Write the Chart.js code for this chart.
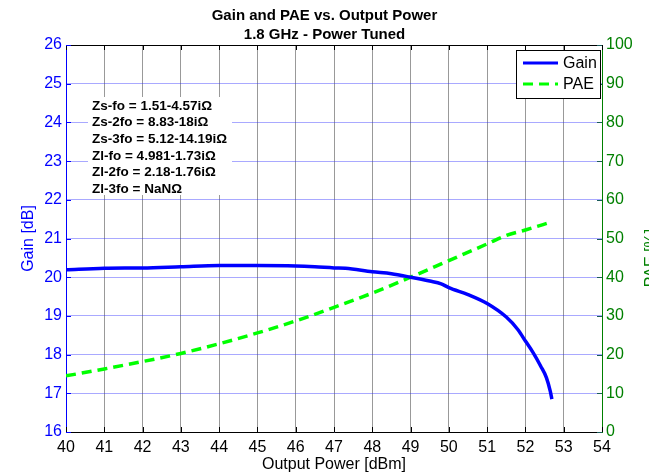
<!DOCTYPE html>
<html>
<head>
<meta charset="utf-8">
<script src="https://cdn.jsdelivr.net/npm/chart.js@4.4.1/dist/chart.umd.min.js"></script>
<style>
  html, body { margin: 0; padding: 0; background: #fff; overflow: hidden; }
  #wrap { width: 649px; height: 474px; }
</style>
</head>
<body>
<div id="wrap"><canvas id="c" width="649" height="474"></canvas></div>
<script>
// Gain and PAE vs output power, two y axes (MATLAB-style plot)
const titleLines = ['Gain and PAE vs. Output Power', '1.8 GHz - Power Tuned'];

const gainX = [40, 41, 42, 43, 44, 45, 46, 46.5, 47, 47.3, 48, 48.5, 49, 49.5, 49.8, 50, 50.5, 51, 51.5, 51.8, 52, 52.2, 52.4, 52.55, 52.65, 52.69];
const gainY = [20.19, 20.23, 20.24, 20.27, 20.3, 20.3, 20.29, 20.27, 20.24, 20.23, 20.14, 20.09, 20.0, 19.9, 19.83, 19.73, 19.55, 19.32, 18.97, 18.65, 18.35, 18.05, 17.7, 17.4, 17.05, 16.85];

const paeX = [40, 41, 42, 43, 44, 45, 46, 47, 48, 49, 50, 51, 51.5, 52, 52.69];
const paeY = [14.5, 16.3, 18.2, 20.3, 22.8, 25.6, 28.7, 32.2, 35.9, 40.0, 44.3, 48.6, 50.8, 52.2, 54.3];

const impedanceNotes = [
  'Zs-fo = 1.51-4.57iΩ',
  'Zs-2fo = 8.83-18iΩ',
  'Zs-3fo = 5.12-14.19iΩ',
  'Zl-fo = 4.981-1.73iΩ',
  'Zl-2fo = 2.18-1.76iΩ',
  'Zl-3fo = NaNΩ',
];

const FONT = 'Liberation Sans, Arial, sans-serif';
const BLUE = '#0000ff';
const GREEN = '#008000';

const toPts = (xs, ys) => xs.map((x, i) => ({ x, y: ys[i] }));

// white text box with the impedance notes, top border, inward ticks, legend, right title
const extras = {
  id: 'extras',
  afterDraw(chart) {
    const { ctx, chartArea: a, scales } = chart;
    ctx.save();

    // top border
    ctx.strokeStyle = '#000';
    ctx.lineWidth = 1;
    ctx.beginPath();
    ctx.moveTo(a.left, a.top + 0.5);
    ctx.lineTo(a.right, a.top + 0.5);
    ctx.stroke();

    // inward ticks
    ctx.beginPath();
    scales.x.ticks.forEach(t => {
      const px = Math.round(scales.x.getPixelForValue(t.value)) + 0.5;
      ctx.moveTo(px, a.bottom); ctx.lineTo(px, a.bottom - 5);
      ctx.moveTo(px, a.top); ctx.lineTo(px, a.top + 5);
    });
    ctx.stroke();
    ctx.strokeStyle = BLUE;
    ctx.beginPath();
    scales.y.ticks.forEach(t => {
      const py = Math.round(scales.y.getPixelForValue(t.value)) + 0.5;
      ctx.moveTo(a.left, py); ctx.lineTo(a.left + 5, py);
    });
    ctx.stroke();
    ctx.strokeStyle = '#1a5a5a';
    ctx.beginPath();
    scales.y2.ticks.forEach(t => {
      const py = Math.round(scales.y2.getPixelForValue(t.value)) + 0.5;
      ctx.moveTo(a.right, py); ctx.lineTo(a.right - 5, py);
    });
    ctx.stroke();

    // impedance text box
    ctx.fillStyle = '#fff';
    ctx.fillRect(a.left + 22, a.top + 52, 144, 98);
    ctx.fillStyle = '#000';
    ctx.font = 'bold 13.5px ' + FONT;
    ctx.textBaseline = 'middle';
    ctx.textAlign = 'left';
    impedanceNotes.forEach((s, i) => ctx.fillText(s, a.left + 26, a.top + 61 + i * 16.6));

    // legend box
    const lx = a.right - 86, ly = a.top + 5, lw = 84, lh = 48;
    ctx.fillStyle = '#fff';
    ctx.fillRect(lx, ly, lw, lh);
    ctx.strokeStyle = '#000';
    ctx.lineWidth = 1;
    ctx.strokeRect(lx + 0.5, ly + 0.5, lw, lh);
    ctx.font = '16px ' + FONT;
    chart.data.datasets.forEach((ds, i) => {
      const y = ly + 13 + i * 21;
      ctx.strokeStyle = ds.borderColor;
      ctx.lineWidth = 3;
      ctx.setLineDash(ds.borderDash || []);
      ctx.beginPath();
      ctx.moveTo(lx + 7, y); ctx.lineTo(lx + 42, y);
      ctx.stroke();
      ctx.setLineDash([]);
      ctx.fillStyle = '#000';
      ctx.fillText(ds.label, lx + 47, y + 1);
    });

    // right axis title (MATLAB reads bottom-to-top, cut by the window edge)
    ctx.translate(652, 258);
    ctx.rotate(-Math.PI / 2);
    ctx.fillStyle = GREEN;
    ctx.font = '16px ' + FONT;
    ctx.textAlign = 'center';
    ctx.fillText('PAE [%]', 0, 0);
    ctx.restore();
  }
};

new Chart(document.getElementById('c'), {
  type: 'line',
  data: {
    datasets: [
      { label: 'Gain', data: toPts(gainX, gainY), yAxisID: 'y', borderColor: BLUE, borderWidth: 3.5,
        pointRadius: 0, cubicInterpolationMode: 'monotone', fill: false },
      { label: 'PAE', data: toPts(paeX, paeY), yAxisID: 'y2', borderColor: '#00ff00', borderWidth: 3.5,
        borderDash: [10, 6], pointRadius: 0, cubicInterpolationMode: 'monotone', fill: false },
    ],
  },
  options: {
    responsive: false,
    animation: false,
    layout: { padding: { top: 0, right: 0, bottom: 0, left: 0 } },
    plugins: {
      legend: { display: false },
      tooltip: { enabled: false },
      title: {
        display: true,
        text: titleLines,
        color: '#000',
        font: { family: FONT, size: 15, weight: 'bold', lineHeight: 1.3 },
        padding: { top: 6, bottom: 0 },
      },
    },
    scales: {
      x: {
        type: 'linear', min: 40, max: 54,
        ticks: { stepSize: 1, color: '#000', font: { family: FONT, size: 16 }, padding: 6 },
        grid: { color: 'rgba(0,0,0,0.4)', drawTicks: false },
        border: { color: '#000' },
        title: { display: true, text: 'Output Power [dBm]', color: '#000', font: { family: FONT, size: 16 }, padding: { top: 0, bottom: 0 } },
        afterFit: s => { s.height = 42; },
      },
      y: {
        position: 'left', min: 16, max: 26,
        ticks: { stepSize: 1, color: BLUE, font: { family: FONT, size: 16 }, padding: 4 },
        grid: { color: 'rgba(40,40,255,0.4)', drawTicks: false },
        border: { color: BLUE },
        title: { display: true, text: 'Gain [dB]', color: BLUE, font: { family: FONT, size: 16 }, padding: { top: 19, bottom: 0 } },
        afterFit: s => { s.width = 66; },
      },
      y2: {
        position: 'right', min: 0, max: 100,
        ticks: { stepSize: 10, color: GREEN, font: { family: FONT, size: 16 }, padding: 4 },
        grid: { display: false, drawTicks: false },
        border: { color: GREEN },
        afterFit: s => { s.width = 47; },
      },
    },
  },
  plugins: [extras],
});
</script>
</body>
</html>
